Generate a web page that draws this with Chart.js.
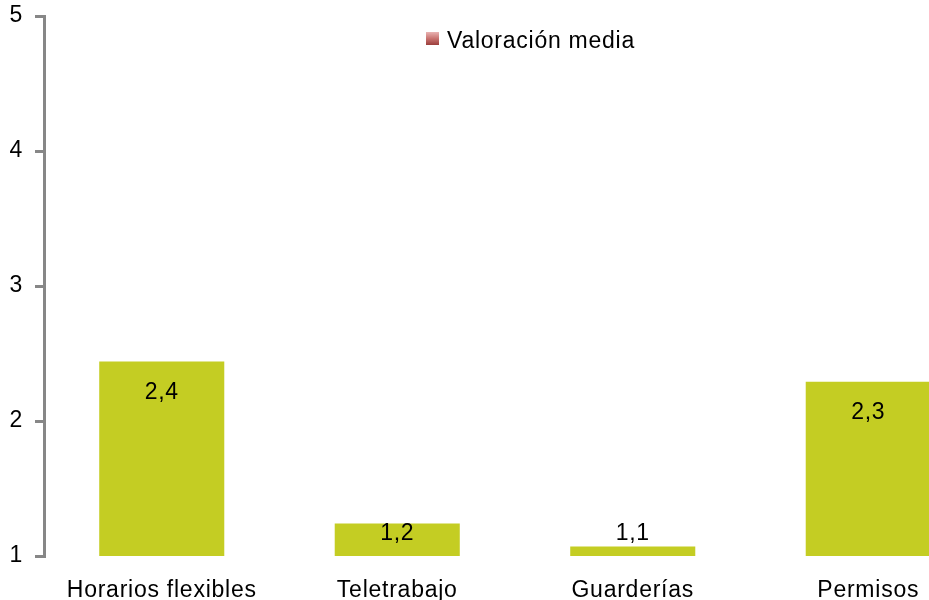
<!DOCTYPE html>
<html lang="es">
<head>
<meta charset="utf-8">
<title>Valoración media</title>
<script src="https://cdn.jsdelivr.net/npm/chart.js@4/dist/chart.umd.min.js"></script>
<style>
  html, body { margin: 0; padding: 0; background: #fff; overflow: hidden; }
  #wrap { position: absolute; left: 0; top: 0; width: 990px; height: 600px; }
</style>
</head>
<body>
<div id="wrap"><canvas id="chart"></canvas></div>
<script>
// Medidas de conciliación y su valoración media (escala 1-5)
const categories = ['Horarios flexibles', 'Teletrabajo', 'Guarderías', 'Permisos'];
const valoracionMedia = [2.44, 1.24, 1.07, 2.29];
const seriesName = 'Valoración media';
const yTicks = [1, 2, 3, 4, 5];

const FONT = '"Liberation Sans", Arial, sans-serif';
const FONT_SIZE = 23;
const LETTER_SPACING = '0.75px';
const AXIS_GREY = '#878787';
const BAR_COLOR = '#c4cd23';

const fmt = v => v.toFixed(1).replace('.', ',');

// Espaciado de letras como en el original
const spacing = {
  id: 'spacing',
  beforeDraw(chart) { chart.ctx.letterSpacing = LETTER_SPACING; }
};

// Etiquetas de valor en el extremo interior de cada barra
const valueLabels = {
  id: 'valueLabels',
  afterDatasetsDraw(chart) {
    const ctx = chart.ctx;
    const meta = chart.getDatasetMeta(0);
    const base = chart.scales.y.getPixelForValue(1);
    ctx.save();
    ctx.letterSpacing = LETTER_SPACING;
    ctx.font = FONT_SIZE + 'px ' + FONT;
    ctx.fillStyle = '#000';
    ctx.textAlign = 'center';
    ctx.textBaseline = 'alphabetic';
    meta.data.forEach((bar, i) => {
      const y = Math.min(bar.y + 37.5, base - 16);
      ctx.fillText(fmt(valoracionMedia[i]), bar.x, y);
    });
    ctx.restore();
  }
};

// Leyenda dentro del área del gráfico
const insideLegend = {
  id: 'insideLegend',
  afterDraw(chart) {
    const ctx = chart.ctx;
    const a = chart.chartArea;
    const x = a.left + 382, y = a.top + 16;
    ctx.save();
    const g = ctx.createLinearGradient(0, y, 0, y + 13);
    g.addColorStop(0, '#e9b3b2');
    g.addColorStop(0.5, '#c97471');
    g.addColorStop(1, '#9b3e3c');
    ctx.fillStyle = g;
    ctx.fillRect(x, y, 13, 13);
    ctx.letterSpacing = LETTER_SPACING;
    ctx.font = FONT_SIZE + 'px ' + FONT;
    ctx.fillStyle = '#000';
    ctx.textAlign = 'left';
    ctx.textBaseline = 'alphabetic';
    ctx.fillText(seriesName, x + 21, y + 16);
    ctx.restore();
  }
};

new Chart(document.getElementById('chart'), {
  type: 'bar',
  data: {
    labels: categories,
    datasets: [{
      label: seriesName,
      data: valoracionMedia,
      backgroundColor: BAR_COLOR,
      borderWidth: 0,
      barPercentage: 0.531,
      categoryPercentage: 1.0
    }]
  },
  options: {
    responsive: true,
    maintainAspectRatio: false,
    animation: false,
    layout: { padding: { top: 16, right: 4, left: 0, bottom: 0 } },
    plugins: {
      legend: { display: false },
      tooltip: { enabled: false }
    },
    scales: {
      x: {
        grid: { display: false },
        border: { display: false },
        ticks: {
          color: '#000',
          font: { family: FONT, size: FONT_SIZE },
          padding: 13,
          maxRotation: 0,
          autoSkip: false
        },
        afterFit(scale) {
          scale.height = 44;
          scale.paddingLeft = 0;
          scale.paddingRight = 0;
        }
      },
      y: {
        min: yTicks[0],
        max: yTicks[yTicks.length - 1],
        afterBuildTicks(scale) { scale.ticks = yTicks.map(v => ({ value: v })); },
        grid: {
          drawOnChartArea: false,
          drawTicks: true,
          tickLength: 9,
          tickWidth: 3,
          tickColor: AXIS_GREY,
          color: AXIS_GREY,
          lineWidth: 3
        },
        border: { display: true, color: AXIS_GREY, width: 3 },
        ticks: {
          color: '#000',
          font: { family: FONT, size: FONT_SIZE },
          padding: 12,
          callback: v => String(v)
        },
        afterFit(scale) {
          scale.width = 44;
          scale.paddingTop = 0;
          scale.paddingBottom = 0;
        }
      }
    }
  },
  plugins: [spacing, valueLabels, insideLegend]
});
</script>
</body>
</html>
